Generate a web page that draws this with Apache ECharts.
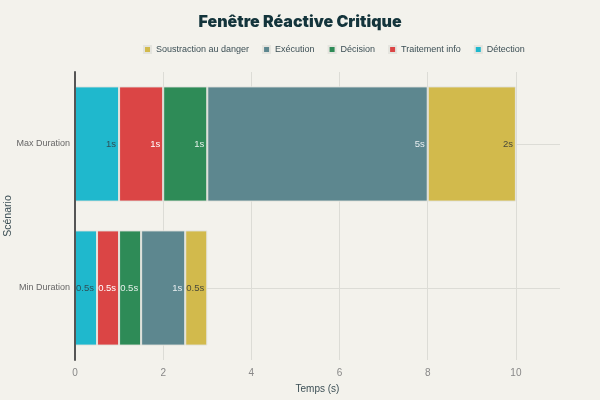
<!DOCTYPE html>
<html>
<head>
<meta charset="utf-8">
<script src="https://cdn.jsdelivr.net/npm/echarts@6/dist/echarts.min.js"></script>
<style>
  html, body { margin: 0; padding: 0; background: #F3F2EC; }
  #chart { width: 600px; height: 400px; }
</style>
</head>
<body>
<div id="chart"></div>
<script>
const scenarios = ["Min Duration", "Max Duration"];
const phases = ["Détection", "Traitement info", "Décision", "Exécution", "Soustraction au danger"];
const phaseColors = ["#1FB8CD", "#DB4545", "#2E8B57", "#5D878F", "#D2BA4C"];
const labelColors = ["#2E4F57", "#ffffff", "#E6F0EA", "#E8EEF0", "#4A4A3A"];
// durées en secondes, [Min, Max]
const detection = [0.5, 1];
const traitement = [0.5, 1];
const decision = [0.5, 1];
const execution = [1, 5];
const soustraction = [0.5, 2];
const legendOrder = ["Soustraction au danger", "Exécution", "Décision", "Traitement info", "Détection"];

const values = [detection, traitement, decision, execution, soustraction];
const font = "'Liberation Sans Narrow', 'Liberation Sans', sans-serif";
const titleFont = "Inter, 'Noto Sans', sans-serif";

let chart = echarts.init(document.getElementById("chart"));

let barSeries = phases.map((name, i) => ({
  name: name,
  type: "bar",
  stack: "total",
  barCategoryGap: "20%",
  data: values[i],
  itemStyle: { color: phaseColors[i], borderColor: "#E4E4DE", borderWidth: 1 },
  label: {
    show: true,
    position: "insideRight",
    distance: 3,
    fontSize: 9.5,
    fontFamily: font,
    color: labelColors[i],
    formatter: (p) => p.value + "s"
  }
}));

// axe caché : ses lignes tombent au centre de chaque scénario
const helperTicks = ["", "c1", "", "c2", ""];

let option = {
  backgroundColor: "#F3F2EC",
  textStyle: { fontFamily: font },
  animation: false,
  title: {
    text: "Fenêtre Réactive Critique",
    left: "center",
    top: 9,
    textStyle: { fontSize: 16, fontWeight: 900, color: "#13343B", fontFamily: titleFont }
  },
  legend: {
    data: legendOrder,
    top: 40,
    left: 138,
    itemWidth: 7,
    itemHeight: 7,
    itemGap: 13,
    icon: "rect",
    textStyle: { fontSize: 9, color: "#3C4F55", fontFamily: font }
  },
  grid: { left: 75, right: 40, top: 72, bottom: 40, containLabel: false, outerBoundsMode: "none" },
  xAxis: {
    type: "value",
    min: 0,
    max: 11,
    interval: 2,
    name: "Temps (s)",
    nameLocation: "middle",
    nameGap: 24,
    nameTextStyle: { fontSize: 10, color: "#3C4F55", fontFamily: font },
    axisLine: { show: false },
    axisTick: { show: false },
    axisLabel: {
      fontSize: 10,
      color: "#888",
      fontFamily: font,
      showMaxLabel: false
    },
    splitLine: {
      show: true,
      showMaxLine: false,
      lineStyle: { color: "#DCDCD6" }
    }
  },
  yAxis: [
    {
      type: "category",
      data: scenarios,
      name: "Scénario",
      nameLocation: "middle",
      nameGap: 61,
      nameMoveOverlap: false,
      nameTextStyle: { fontSize: 10.5, color: "#3C4F55", fontFamily: font },
      axisLine: { show: true, lineStyle: { color: "#555", width: 2 } },
      axisTick: { show: false },
      axisLabel: { fontSize: 9, color: "#666", margin: 5, fontFamily: font },
      splitLine: { show: false },
      z: 5
    },
    {
      type: "category",
      data: helperTicks,
      position: "left",
      boundaryGap: false,
      axisLine: { show: false },
      axisTick: { show: false },
      axisLabel: { show: false },
      splitLine: {
        show: true,
        interval: (idx) => idx === 1 || idx === 3,
        lineStyle: { color: "#DCDCD6" }
      }
    }
  ],
  series: barSeries
};
option && chart.setOption(option);
</script>
</body>
</html>
